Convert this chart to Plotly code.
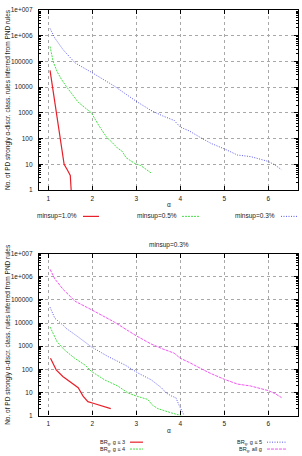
import plotly.graph_objects as go

# ---------------- data ----------------
# Top panel: rules vs alpha for three minsup levels
top_red_alpha = [1.04, 1.18, 1.27, 1.36, 1.45, 1.5, 1.52]
top_red_val = [45000, 1000, 100, 10, 5.4, 3.7, 1]

top_green_alpha = [1.04, 1.11, 1.2, 1.3, 1.42, 1.55, 1.68, 1.83, 1.98, 2.15,
                   2.32, 2.45, 2.58, 2.68, 2.74, 2.77, 2.96, 3.1, 3.19, 3.34]
top_green_val = [380000, 100000, 40000, 20000, 10000, 5000, 2600, 1600, 1000, 320,
                 117, 71, 42, 32, 23, 18, 11, 9, 7, 4.6]

top_blue_alpha = [1.04, 1.15, 1.34, 1.61, 2.0, 2.5, 3.0, 3.33, 3.6, 3.86,
                  4.0, 4.2, 4.5, 4.7, 5.0, 5.3, 5.6, 6.0, 6.15, 6.3]
top_blue_val = [1900000, 800000, 280000, 87000, 36000, 11000, 2800, 1260, 760, 510,
                280, 200, 100, 65, 40, 23, 20, 13, 9.5, 6.2]

top_names = ["minsup=1.0%", "minsup=0.5%", "minsup=0.3%"]

# Bottom panel: minsup=0.3%, by max group size g
bot_red_alpha = [1.05, 1.18, 1.33, 1.52, 1.68, 1.79, 1.9, 2.02, 2.21, 2.42]
bot_red_val = [300, 95, 49, 26, 16, 7, 4, 3.4, 2.6, 2]

bot_green_alpha = [1.04, 1.2, 1.37, 1.6, 1.83, 1.98, 2.28, 2.58, 2.81, 3.0,
                   3.26, 3.37, 3.49, 3.64, 3.8, 4.02]
bot_green_val = [6800, 1550, 680, 300, 155, 81, 35, 19, 9.5, 7,
                 5, 2.8, 2, 1.6, 1.3, 1]

bot_blue_alpha = [1.04, 1.15, 1.34, 1.41, 1.68, 1.98, 2.36, 2.74, 3.04, 3.34,
                  3.57, 3.68, 3.8, 3.9, 3.98, 4.09]
bot_blue_val = [48000, 16000, 8000, 5800, 2500, 930, 355, 155, 69, 35,
                16, 9.5, 7, 5.9, 2.6, 1]

bot_mag_alpha = [1.04, 1.15, 1.34, 1.61, 2.0, 2.5, 3.0, 3.33, 3.6, 3.86,
                 4.0, 4.2, 4.5, 4.7, 5.0, 5.3, 5.6, 6.0, 6.15, 6.3]
bot_mag_val = [2100000, 800000, 280000, 87000, 36000, 11000, 2800, 1260, 760, 500,
               300, 200, 100, 65, 37, 23, 19, 12, 9, 6]

bot_names = ["BR<sub>g</sub>, g ≤ 3", "BR<sub>g</sub>, g ≤ 4",
             "BR<sub>g</sub>, g ≤ 5", "BR<sub>g</sub>, all g"]

x_ticks = [1, 2, 3, 4, 5, 6]
y_tickvals = [1, 10, 100, 1000, 10000, 100000, 1000000, 10000000]
y_ticktext = ["1", "10", "100", "1000", "10000", "100000", "1e+006", "1e+007"]
y_title = "No. of PD strongly α-discr. class. rules inferred from PND rules"
bottom_title = "minsup=0.3%"

# ---------------- styling ----------------
W, H = 302, 456
FONT = "Liberation Sans"
FS = 6.5
RED, GREEN, BLUE, MAG = "#e8202a", "#33dd33", "#4444ee", "#ee44ee"


def px(x):
    return x / W


def py(y):
    return 1 - y / H


fig = go.Figure()

top_series = [
    (top_red_alpha, top_red_val, RED, "solid", 1.2),
    (top_green_alpha, top_green_val, GREEN, "2px,1px", 0.9),
    (top_blue_alpha, top_blue_val, BLUE, "1px,1.5px", 0.9),
]
for (a, v, c, d, w), n in zip(top_series, top_names):
    fig.add_trace(go.Scatter(x=a, y=v, mode="lines", name=n, showlegend=False,
                             line=dict(color=c, dash=d, width=w),
                             xaxis="x", yaxis="y"))

bot_series = [
    (bot_red_alpha, bot_red_val, RED, "solid", 1.2),
    (bot_green_alpha, bot_green_val, GREEN, "2px,1px", 0.9),
    (bot_blue_alpha, bot_blue_val, BLUE, "1px,1.5px", 0.9),
    (bot_mag_alpha, bot_mag_val, MAG, "3px,1px", 0.9),
]
for (a, v, c, d, w), n in zip(bot_series, bot_names):
    fig.add_trace(go.Scatter(x=a, y=v, mode="lines", name=n, showlegend=False,
                             line=dict(color=c, dash=d, width=w),
                             xaxis="x2", yaxis="y2"))

minor_vals = [m * 10 ** k for k in range(7) for m in range(2, 10)]

xa = dict(range=[0.789, 6.675], tickmode="array", tickvals=x_ticks,
          ticks="inside", ticklen=4, mirror="ticks", showline=True,
          linecolor="black", linewidth=1.2, tickcolor="black",
          showgrid=True, gridcolor="#a8a8a8", griddash="dot", gridwidth=0.6,
          zeroline=False, tickfont=dict(family=FONT, size=FS, color="#222"),
          ticklabelstandoff=2,
          domain=[px(39), px(298)])
ya = dict(type="log", range=[0, 7], tickmode="array", tickvals=y_tickvals,
          ticktext=y_ticktext, ticks="inside", ticklen=4, mirror="ticks",
          showline=True, linecolor="black", linewidth=1.2, tickcolor="black",
          showgrid=True, gridcolor="#a8a8a8", griddash="dot", gridwidth=0.6,
          zeroline=False, tickfont=dict(family=FONT, size=FS, color="#222"),
          ticklabelstandoff=4,
          minor=dict(tickmode="array", tickvals=minor_vals, ticks="inside",
                     ticklen=2, tickcolor="black", showgrid=False))

fig.update_layout(
    width=W, height=H, margin=dict(l=0, r=0, t=0, b=0),
    paper_bgcolor="white", plot_bgcolor="white", showlegend=False,
    font=dict(family=FONT, size=FS, color="#222"),
    xaxis=dict(xa, anchor="y"),
    yaxis=dict(ya, anchor="x", domain=[py(189), py(6)]),
    xaxis2=dict(xa, anchor="y2"),
    yaxis2=dict(ya, anchor="x2", domain=[py(418), py(253.5)]),
)

ann = []
# axis titles
for yc in (97.5, 336):
    ann.append(dict(x=px(8), y=py(yc), xref="paper", yref="paper", text=y_title,
                    textangle=-90, showarrow=False, xanchor="center", yanchor="middle",
                    font=dict(family=FONT, size=FS, color="#222")))
for yc in (204, 433):
    ann.append(dict(x=px(168.5), y=py(yc), xref="paper", yref="paper", text="α",
                    showarrow=False, xanchor="center", yanchor="middle",
                    font=dict(family=FONT, size=FS, color="#222")))
ann.append(dict(x=px(168.5), y=py(245), xref="paper", yref="paper", text=bottom_title,
                showarrow=False, xanchor="center", yanchor="middle",
                font=dict(family=FONT, size=FS, color="#222")))

shapes = []
# top legend (text then sample, gnuplot style)
top_leg = [(79, 83, 99), (179, 182, 199), (277, 281, 298)]
for (tx, l0, l1), n, s in zip(top_leg, top_names, top_series):
    ann.append(dict(x=px(tx), y=py(215.7), xref="paper", yref="paper", text=n,
                    showarrow=False, xanchor="right", yanchor="middle",
                    font=dict(family=FONT, size=FS, color="#222")))
    shapes.append(dict(type="line", xref="paper", yref="paper", x0=px(l0), x1=px(l1),
                       y0=py(215.7), y1=py(215.7),
                       line=dict(color=s[2], dash=s[3], width=s[4])))
# bottom legend
bot_leg = [(127, 130, 143, 445), (127, 130, 143, 452),
           (264, 267, 287, 445), (264, 267, 287, 452)]
for (tx, l0, l1, yy), n, s in zip(bot_leg, bot_names, bot_series):
    ann.append(dict(x=px(tx), y=py(yy), xref="paper", yref="paper", text=n,
                    showarrow=False, xanchor="right", yanchor="middle",
                    font=dict(family=FONT, size=5.5, color="#222")))
    shapes.append(dict(type="line", xref="paper", yref="paper", x0=px(l0), x1=px(l1),
                       y0=py(yy), y1=py(yy),
                       line=dict(color=s[2], dash=s[3], width=s[4])))

fig.update_layout(annotations=ann, shapes=shapes)
fig.write_html("out.html")
